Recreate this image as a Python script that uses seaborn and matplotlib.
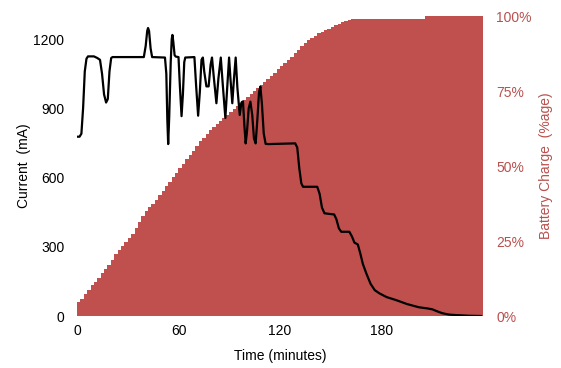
import matplotlib
matplotlib.use("Agg")
import matplotlib.pyplot as plt
import seaborn as sns
import numpy as np
import pandas as pd
from matplotlib.ticker import FuncFormatter

# ---- data ----
current_time = [0, 1.5, 2.6, 3.6, 4.6, 5.6, 6.5, 10, 12, 13.6, 14.8, 16, 17.2, 18.2, 19.2, 20.2, 21,
                30, 39.5, 40.6, 41.5, 42, 42.6, 43.5, 44.4, 52, 52.8, 53.4, 53.9, 54.5, 55.4, 56,
                56.4, 56.9, 57.7, 58.4, 60, 60.8, 61.8, 62.6, 63.4, 64, 69.4, 70.4, 71.6, 72.6,
                73.6, 74.4, 75.2, 76.5, 77.8, 79, 79.8, 80.8, 82.4, 83.6, 85, 86.2, 87.7, 88.8,
                89.9, 90.7, 91.8, 92.8, 93.8, 94.8, 96.2, 97.2, 98.1, 98.9, 99.7, 100.5, 101.5,
                102.5, 103.6, 104.6, 105.6, 106.6, 107.6, 108.4, 109.3, 110.4, 111.5, 113, 129,
                130.2, 131.4, 132.6, 133.6, 142, 143.4, 144.8, 146.3, 152, 153.3, 154.8, 156.2,
                161, 162.5, 164, 166, 167.5, 169, 171, 173.5, 176, 178.8, 183, 188.6, 195, 202,
                207, 210, 213, 216, 220, 224, 232, 239]
current_ma = [777, 777, 790, 900, 1060, 1115, 1125, 1125, 1118, 1110, 1050, 960, 925, 940, 1060, 1118, 1122,
              1122, 1122, 1170, 1235, 1248, 1235, 1160, 1122, 1120, 1050, 850, 745, 860, 1100, 1200,
              1218, 1190, 1130, 1124, 1122, 1000, 866, 960, 1100, 1120, 1122, 1000, 868, 970,
              1110, 1120, 1060, 995, 995, 1090, 1120, 1040, 922, 1030, 1120, 1000, 858, 990,
              1120, 1030, 922, 1030, 1120, 990, 871, 925, 930, 830, 748, 800, 900,
              929, 870, 770, 748, 850, 970, 994, 920, 790, 746, 745, 748,
              730, 640, 575, 560, 560, 530, 470, 445, 440, 420, 380, 365,
              365, 345, 318, 310, 270, 225, 185, 140, 112, 98, 82, 69, 52, 38,
              33, 29, 20, 12, 6, 4, 1, 0]

charge_time = list(range(0, 240, 2))
charge_pct = [4.8, 5.7, 7.2, 8.8, 10.3, 11.5, 12.8, 14.2, 15.6, 17, 18.8, 20.6, 22, 23.5, 24.8, 26,
              27.5, 29.2, 31.5, 33.3, 35, 36.4, 37.5, 38.8, 40.2, 41.8, 43.2, 44.8, 46.2, 47.8,
              49.2, 50.7, 52.2, 53.6, 55, 56.6, 58.2, 59.5, 60.8, 62, 63, 64, 65, 66, 67, 68,
              69, 70, 71, 72, 73, 74, 75, 76, 77, 78, 79, 80, 81, 82.2, 83.5, 84.5, 85.5, 86.4,
              87.6, 88.8, 90, 91, 92, 92.8, 93.5, 94.2, 94.8, 95.3, 95.8, 96.4, 97, 97.5, 97.9,
              98.3, 98.6, 98.9] + [99] * 21 + [100] * 17

x_ticks = [0, 60, 120, 180]
left_ticks = [0, 300, 600, 900, 1200]
right_ticks = [0, 25, 50, 75, 100]

RED = "#C0504D"
RED_TEXT = "#B9504E"

sns.set_theme(style="white")
plt.rcParams['font.family'] = ['Liberation Sans', 'DejaVu Sans']

fig = plt.figure(figsize=(5.61, 3.68), dpi=100)
ax = fig.add_axes([77/561, 1-316/368, (483-77)/561, (316-16)/368])
ax2 = ax.twinx()

df_c = pd.DataFrame({"t": charge_time, "pct": charge_pct})
sns.histplot(data=df_c, x="t", weights="pct", binwidth=2, binrange=(0, 240),
             color=RED, alpha=1.0, edgecolor=RED, linewidth=0, ax=ax2)

df_i = pd.DataFrame({"t": current_time, "mA": current_ma})
sns.lineplot(data=df_i, x="t", y="mA", color="black", linewidth=1.6, ax=ax)

ax.set_zorder(2)
ax.patch.set_visible(False)
ax2.set_zorder(1)

ax.set_xlim(0, 240)
ax.set_ylim(0, 1300)
ax2.set_ylim(0, 100)
ax.set_xticks(x_ticks)
ax.set_yticks(left_ticks)
ax2.set_yticks(right_ticks)
ax2.yaxis.set_major_formatter(FuncFormatter(lambda v, p: f"{int(v)}%"))

for a in (ax, ax2):
    for s in a.spines.values():
        s.set_visible(False)
    a.grid(False)

ax.tick_params(axis='x', length=0, labelsize=10, colors="black", pad=6)
ax.tick_params(axis='y', length=0, labelsize=10, colors="black", pad=9)
ax2.tick_params(axis='y', length=0, labelsize=10, colors=RED_TEXT, pad=9.5)

ax.set_xlabel("Time (minutes)", fontsize=10, color="black", labelpad=8)
ax.set_ylabel("Current  (mA)", fontsize=10, color="black", labelpad=1.5)
ax2.set_ylabel("Battery Charge  (%age)", fontsize=10, color=RED_TEXT, labelpad=5)

fig.savefig("out.png", dpi=100)
